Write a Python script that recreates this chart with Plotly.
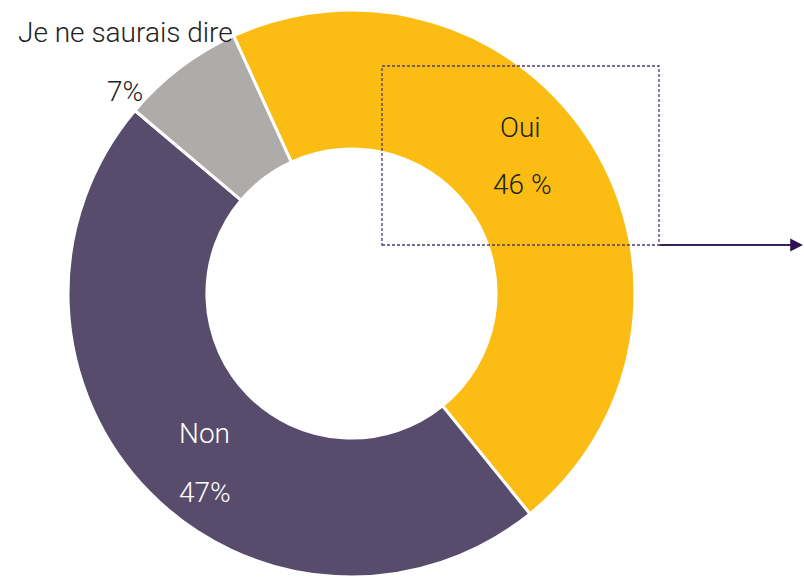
import plotly.graph_objects as go

# Survey answers and shares (%)
labels = ["Oui", "Non", "Je ne saurais dire"]
values = [46, 47, 7]
colors = ["#FBBD13", "#584C6C", "#AFABA9"]
value_formats = ["{} %", "{}%", "{}%"]

W, H = 804, 577


def px(x):
    return x / W


def py(y):
    return 1 - y / H


fig = go.Figure(
    go.Pie(
        labels=labels,
        values=values,
        hole=0.51,
        sort=False,
        direction="clockwise",
        rotation=-24.6,
        marker=dict(colors=colors, line=dict(color="white", width=3)),
        textinfo="none",
        hoverinfo="label+percent",
        showlegend=False,
        domain=dict(x=[px(67), px(636)], y=[0, py(10)]),
    )
)

font_family = "Roboto, 'Liberation Sans', Arial, sans-serif"

# label/value placement per slice: (name x, name y, value x, value y, colour, anchor)
placements = [
    (520, 127, 522, 185, "#222222", "center"),
    (205, 433, 205, 492, "#ffffff", "center"),
    (235, 33, 145, 91, "#222222", "right"),
]

annotations = []
for name, val, fmt, (nx, ny, vx, vy, col, anchor) in zip(labels, values, value_formats, placements):
    annotations.append(dict(
        x=px(nx), y=py(ny), xref="paper", yref="paper", text=name, showarrow=False,
        xanchor=anchor, yanchor="middle",
        font=dict(family=font_family, size=28, color=col, weight=300),
    ))
    annotations.append(dict(
        x=px(vx), y=py(vy), xref="paper", yref="paper", text=fmt.format(val), showarrow=False,
        xanchor=anchor, yanchor="middle",
        font=dict(family=font_family, size=28, color=col, weight=300),
    ))

# arrow pointing right from the highlighted box
annotations.append(dict(
    x=px(803), y=py(245), xref="paper", yref="paper", text="",
    showarrow=True, ax=-144, ay=0, axref="pixel", ayref="pixel",
    arrowhead=2, arrowsize=1.6, arrowwidth=1.6, arrowcolor="#2D1450",
))

shapes = [
    dict(type="rect", xref="paper", yref="paper",
         x0=px(382), x1=px(659), y0=py(245), y1=py(66),
         line=dict(color="#4E3F6E", width=1.3, dash="3px,2px")),
    dict(type="line", xref="paper", yref="paper",
         x0=px(659), x1=px(795), y0=py(245), y1=py(245),
         line=dict(color="#5B4A7B", width=1.8)),
]

fig.update_layout(
    width=W, height=H,
    margin=dict(l=0, r=0, t=0, b=0),
    paper_bgcolor="white", plot_bgcolor="white",
    annotations=annotations, shapes=shapes,
)

fig.write_html("out.html")
